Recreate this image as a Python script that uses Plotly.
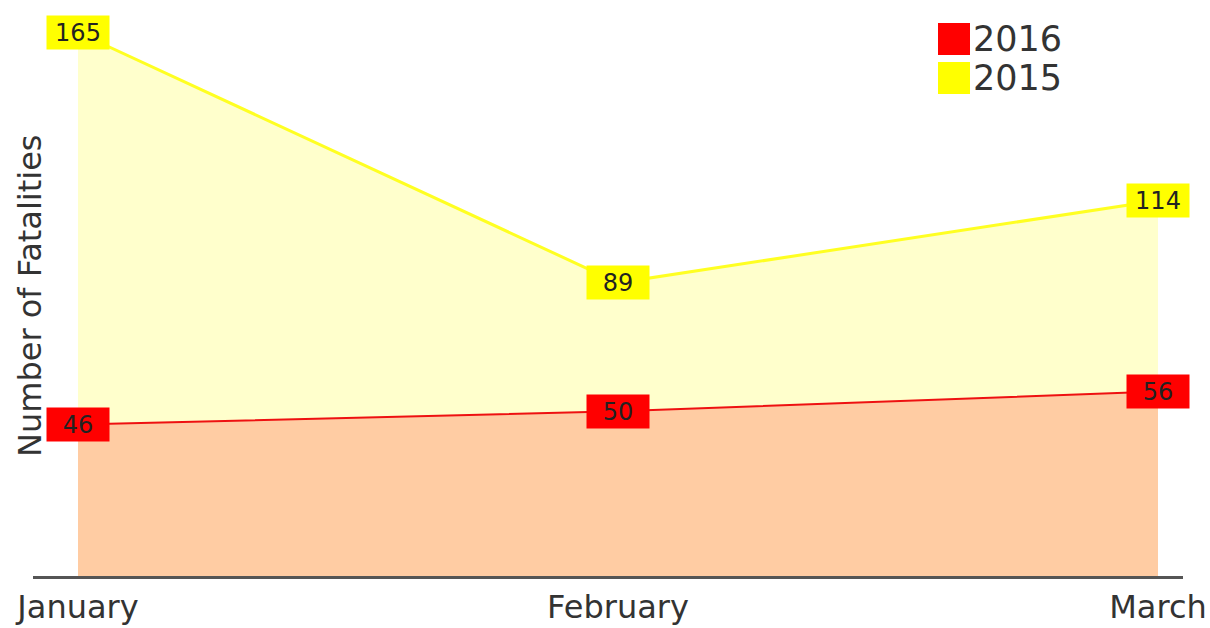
import plotly.graph_objects as go

months = ["January", "February", "March"]
fatalities_2015 = [165, 89, 114]
fatalities_2016 = [46, 50, 56]

x_pos = list(range(len(months)))
FONT = "DejaVu Sans"
TEXT = "#333333"

fig = go.Figure()

# 2015 area (drawn first, behind)
fig.add_trace(go.Scatter(
    x=x_pos, y=fatalities_2015, mode="lines", name="2015",
    line=dict(color="#FFFF22", width=3),
    fill="tozeroy", fillcolor="rgba(255,255,0,0.2)",
    hoverinfo="skip", showlegend=False,
))
# 2016 area
fig.add_trace(go.Scatter(
    x=x_pos, y=fatalities_2016, mode="lines", name="2016",
    line=dict(color="#EE1111", width=2),
    fill="tozeroy", fillcolor="rgba(255,0,0,0.2)",
    hoverinfo="skip", showlegend=False,
))

# value labels in coloured boxes
for series, bg in ((fatalities_2015, "#FFFF00"), (fatalities_2016, "#FF0000")):
    for xi, v in zip(x_pos, series):
        fig.add_annotation(
            x=xi, y=v, xref="x", yref="y", text=str(v), showarrow=False,
            bgcolor=bg, borderpad=3, width=56, height=27,
            font=dict(family=FONT, size=24, color="#222222"),
        )

# legend drawn as swatches + labels
legend_items = [("2016", "#FF0000"), ("2015", "#FFFF00")]
for i, (label, color) in enumerate(legend_items):
    top = 23 + i * 39
    fig.add_shape(
        type="rect", xref="paper", yref="paper",
        x0=(938 - 33) / 1150, x1=(970 - 33) / 1150,
        y0=(576 - top) / 567, y1=(576 - top - 32) / 567,
        fillcolor=color, line=dict(width=0),
    )
    fig.add_annotation(
        xref="paper", yref="paper", x=(971 - 33) / 1150, y=(576 - top - 16) / 567,
        xanchor="left", yanchor="middle", text=label, showarrow=False,
        height=36, font=dict(family=FONT, size=35, color=TEXT),
    )

# y-axis title
fig.add_annotation(
    xref="paper", yref="paper", x=(30 - 33) / 1150, y=(576 - 296) / 567,
    xanchor="center", yanchor="middle", textangle=-90,
    text="Number of Fatalities", showarrow=False,
    font=dict(family=FONT, size=32, color=TEXT),
)

fig.update_layout(
    width=1210, height=628,
    margin=dict(l=33, r=27, t=9, b=52),
    paper_bgcolor="white", plot_bgcolor="white",
    showlegend=False,
    xaxis=dict(
        range=[-45 / 540, 2 + 25 / 540],
        tickmode="array", tickvals=x_pos, ticktext=months,
        showgrid=False, zeroline=False, showline=True,
        linecolor="#555555", linewidth=3, ticks="",
        ticklabelstandoff=1, automargin=False,
        tickfont=dict(family=FONT, size=32, color=TEXT),
    ),
    yaxis=dict(
        range=[0, 567 / 3.294], automargin=False,
        showgrid=False, zeroline=False, showline=False,
        showticklabels=False, ticks="",
    ),
)

fig.write_html("out.html")
